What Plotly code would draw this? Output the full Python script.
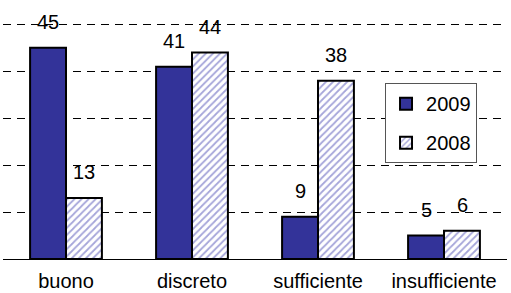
import plotly.graph_objects as go

categories = ["buono", "discreto", "sufficiente", "insufficiente"]
series_names = ["2009", "2008"]
values_2009 = [45, 41, 9, 5]
values_2008 = [13, 44, 38, 6]
y_ticks = [0, 10, 20, 30, 40, 50]

FONT = "Liberation Sans, Arial, sans-serif"

fig = go.Figure()
fig.add_trace(go.Bar(
    name=series_names[0], x=categories, y=values_2009,
    marker=dict(color="#333399", line=dict(color="black", width=2)),
    legendgroup="a",
))
fig.add_trace(go.Bar(
    name=series_names[1], x=categories, y=values_2008,
    marker=dict(color="white", line=dict(color="black", width=2),
                pattern=dict(shape="/", fgcolor="#4b4bb4", bgcolor="white",
                             size=5, solidity=0.35)),
    legendgroup="b",
))

for vals, shift in ((values_2009, -18), (values_2008, 18)):
    for c, v in zip(categories, vals):
        fig.add_annotation(x=c, y=v, xref="x", yref="y", text=str(v),
                           showarrow=False, xshift=shift, yshift=26,
                           font=dict(family=FONT, size=20, color="black"))

fig.update_layout(
    width=511, height=293,
    margin=dict(l=3, r=4, t=23, b=34, autoexpand=False),
    paper_bgcolor="white", plot_bgcolor="white",
    barmode="group", bargap=0.43, bargroupgap=0,
    font=dict(family=FONT, size=20, color="black"),
    legend=dict(x=0.758, y=0.745, xanchor="left", yanchor="top",
                bordercolor="#555", borderwidth=1, bgcolor="white",
                font=dict(size=20), tracegroupgap=10,
                itemwidth=30),
    showlegend=True,
)
fig.update_xaxes(showline=True, linecolor="black", linewidth=1,
                 ticks="", tickfont=dict(size=20), showgrid=False,
                 automargin=False, ticklabelstandoff=4)
fig.update_yaxes(range=[0, 50.3], tickvals=y_ticks, showticklabels=False,
                 showgrid=True, gridcolor="black", gridwidth=1,
                 griddash="8px,6px", zeroline=False, showline=False,
                 automargin=False)

fig.write_html("out.html", config={"displayModeBar": False},
               post_script="document.body.style.margin='0';")
